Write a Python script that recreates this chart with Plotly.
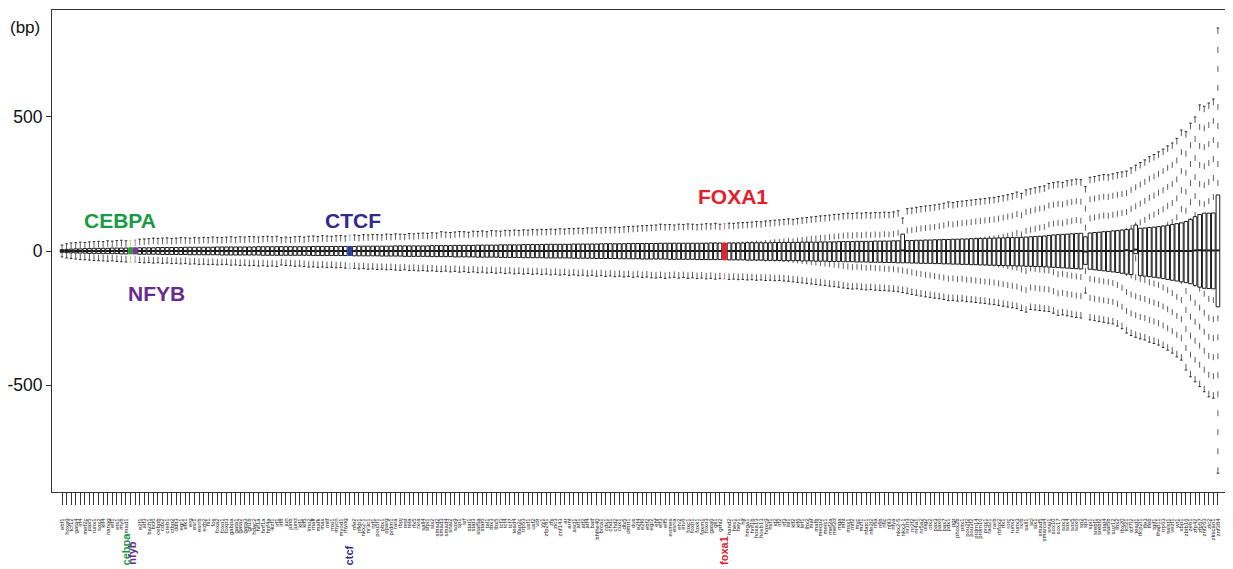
import plotly.graph_objects as go

# ---------------- data ----------------
tf_names = [
    "ebf1", "hoxa9", "tcf12", "gata4", "irf4", "mef2c", "pax5", "runx1", "sox2", "klf4",
    "nanog", "elf1", "ets1", "myb", "smad1", "cebpa", "nfyb", "e2f1", "atf3", "bach1",
    "bcl6", "cebpb", "cdx2", "creb1", "ctbp2", "ddit3", "egr1", "elk1", "erg", "esr1",
    "esrrb", "ezh2", "fli1", "fos", "foxa2", "foxo1", "foxp3", "gabpa", "gata1", "gata2",
    "gata3", "gfi1b", "hdac2", "hif1a", "hnf1a", "hnf4a", "ikzf1", "irf1", "irf8", "jun",
    "junb", "jund", "klf1", "klf5", "lmo2", "maff", "mafk", "max", "mitf", "mxi1",
    "mycn", "myod1", "myog", "ctcf", "nfe2", "nfkb1", "nkx2-1", "nr3c1", "nrf1", "pou5f1",
    "pbx1", "pparg", "prdm1", "rara", "rbpj", "rest", "rela", "rfx5", "rxra", "sall4",
    "sfpi1", "six2", "smad2", "smad3", "smad4", "snai2", "sox9", "sp1", "srf", "stat1",
    "stat3", "stat5a", "stat6", "tal1", "tbx3", "tbx5", "tcf3", "tcf4", "tcf7", "tead4",
    "tfap2c", "trp53", "usf1", "usf2", "vdr", "yy1", "zfp281", "zfx", "zic3", "znf143",
    "ar", "arnt", "ascl1", "atf1", "atf2", "atf4", "batf", "bhlhe40", "brca1", "cdx1",
    "chd1", "chd2", "cux1", "dlx5", "dmrt1", "dux", "e2f4", "e2f6", "ebf2", "egr2",
    "ehf", "elf3", "elf5", "eomes", "esrra", "etv2", "etv6", "foxc1", "foxh1", "foxk1",
    "foxm1", "foxo3", "gata6", "gli1", "grhl2", "foxa1", "hand2", "hes1", "hey1", "hlf",
    "hmga1", "hnf1b", "hoxa13", "hoxb13", "hoxc9", "hsf1", "id2", "irf2", "irf3", "isl1",
    "klf2", "klf6", "lef1", "lhx2", "maf", "mafb", "mecp2", "meis1", "mef2a", "mef2d",
    "mga", "mnt", "msx1", "mtf2", "myc", "mzf1", "nfatc1", "nfe2l2", "nfia", "nfib",
    "nfic", "nfil3", "nfya", "nkx2-5", "nkx3-1", "nr1h3", "nr2f2", "nr4a1", "nr5a2", "olig2",
    "otx2", "pax3", "pax6", "pax7", "pdx1", "pgr", "phox2b", "pitx1", "pou2f2", "pou3f2",
    "prdm14", "prdm16", "prox1", "rad21", "rarb", "rbfox2", "rfx1", "rorc", "runx2", "runx3",
    "rxrb", "sall1", "scl", "six1", "smad5", "smarca4", "snai1", "sox10", "sox17", "sox3",
    "sox4", "sox5", "sox6", "sp2", "sp3", "spi1", "srebf1", "srebf2", "stat4", "stat5b",
    "suz12", "tbx2", "tbx20", "tcf21", "tcf7l2", "tead1", "tfcp2l1", "tfe3", "tfeb", "tgif1",
    "thap11", "trp63", "twist1", "vezf1", "wt1", "xbp1", "zbtb16", "zeb1", "zfp42", "zfp57",
    "znf263", "zic2", "zkscan1", "znf384",
]

whisker_hi = [
    22, 27, 30, 31, 33, 32, 34, 35, 36, 35,
    38, 37, 39, 40, 38, 40, 41, 44, 45, 46,
    48, 47, 48, 49, 47, 48, 50, 49, 48, 50,
    49, 51, 50, 52, 51, 50, 52, 53, 51, 53,
    52, 54, 53, 52, 54, 55, 53, 55, 50, 52,
    51, 53, 54, 52, 55, 56, 54, 57, 56, 55,
    57, 58, 56, 59, 60, 58, 61, 60, 62, 61,
    60, 63, 62, 64, 63, 62, 65, 64, 66, 67,
    66, 68, 67, 72, 70, 69, 71, 73, 72, 70,
    74, 73, 75, 72, 76, 75, 74, 77, 76, 78,
    77, 79, 78, 80, 79, 81, 80, 82, 81, 83,
    82, 84, 83, 85, 84, 86, 85, 87, 86, 88,
    87, 89, 88, 90, 91, 92, 93, 94, 95, 96,
    97, 100, 98, 99, 97, 100, 99, 101, 100, 98,
    100, 102, 101, 103, 100, 102, 104, 103, 105, 106,
    107, 108, 110, 109, 112, 113, 115, 116, 118, 120,
    118, 121, 123, 125, 127, 129, 131, 132, 134, 136,
    137, 139, 141, 140, 142, 141, 143, 142, 144, 143,
    145, 144, 146, 150, 123, 158, 160, 163, 166, 168,
    170, 172, 175, 178, 183, 181, 184, 186, 188, 190,
    192, 194, 196, 198, 200, 203, 206, 210, 214, 220,
    215, 228, 232, 236, 240, 243, 252, 255, 258, 256,
    262, 265, 268, 266, 240, 275, 278, 282, 285, 284,
    288, 292, 295, 298, 310, 320, 330, 340, 352, 360,
    370, 380, 392, 403, 420, 451, 445, 477, 500, 545,
    540, 552, 567, 832,
]

whisker_lo = [
    -22, -26, -28, -30, -32, -33, -34, -35, -36, -37,
    -38, -37, -39, -40, -41, -42, -41, -43, -44, -43,
    -45, -44, -46, -45, -47, -46, -48, -47, -49, -48,
    -50, -49, -51, -50, -52, -51, -50, -53, -52, -54,
    -53, -55, -54, -56, -55, -57, -56, -58, -52, -54,
    -55, -57, -56, -58, -60, -59, -61, -60, -62, -61,
    -63, -62, -64, -66, -65, -67, -66, -68, -67, -69,
    -68, -70, -69, -71, -72, -70, -73, -72, -74, -73,
    -75, -74, -76, -77, -75, -78, -76, -79, -77, -80,
    -78, -81, -79, -82, -80, -83, -81, -84, -82, -85,
    -83, -86, -84, -87, -85, -88, -86, -89, -87, -90,
    -88, -91, -89, -92, -90, -93, -91, -94, -92, -95,
    -93, -96, -94, -97, -95, -98, -96, -99, -97, -100,
    -101, -99, -102, -100, -98, -101, -99, -102, -100, -103,
    -101, -104, -102, -105, -103, -104, -106, -105, -107, -106,
    -108, -107, -109, -108, -110, -109, -111, -110, -112, -113,
    -115, -117, -119, -121, -123, -125, -127, -129, -131, -133,
    -135, -138, -140, -142, -141, -143, -145, -144, -146, -147,
    -148, -149, -150, -152, -155, -158, -162, -165, -168, -171,
    -173, -176, -178, -181, -185, -184, -187, -186, -189, -190,
    -192, -194, -196, -198, -200, -203, -206, -209, -212, -215,
    -222, -228, -218, -220, -222, -224, -226, -232, -240, -238,
    -242, -245, -248, -250, -157, -257, -260, -263, -266, -269,
    -272, -280, -290, -306, -315, -322, -328, -332, -340, -345,
    -351, -360, -370, -381, -395, -407, -444, -469, -488, -506,
    -525, -544, -549, -829,
]

q3 = [
    5, 6, 7, 8, 8, 9, 9, 10, 10, 10,
    10, 11, 11, 11, 11, 12, 12, 12, 12, 12,
    12, 13, 13, 13, 13, 13, 13, 14, 14, 14,
    14, 14, 14, 14, 15, 15, 15, 15, 15, 15,
    15, 15, 15, 16, 16, 16, 16, 16, 16, 16,
    16, 16, 16, 16, 16, 17, 17, 17, 17, 17,
    17, 17, 17, 17, 17, 18, 18, 18, 18, 18,
    18, 18, 18, 19, 19, 19, 19, 19, 19, 19,
    19, 20, 20, 20, 20, 20, 21, 21, 21, 21,
    21, 22, 22, 22, 22, 22, 23, 23, 23, 23,
    23, 24, 24, 24, 24, 24, 25, 25, 25, 25,
    25, 25, 26, 26, 26, 26, 26, 26, 27, 27,
    27, 27, 27, 27, 28, 28, 28, 28, 28, 28,
    28, 29, 29, 29, 29, 29, 29, 29, 29, 29,
    29, 29, 30, 30, 30, 30, 30, 30, 30, 30,
    31, 31, 31, 31, 31, 31, 32, 32, 32, 32,
    32, 32, 33, 33, 33, 33, 34, 34, 34, 34,
    35, 35, 35, 35, 36, 36, 36, 36, 37, 37,
    37, 37, 38, 38, 63, 39, 39, 40, 40, 41,
    41, 42, 42, 43, 43, 44, 44, 45, 45, 46,
    46, 47, 47, 48, 48, 49, 49, 50, 50, 51,
    51, 52, 53, 54, 55, 56, 58, 60, 61, 62,
    63, 64, 65, 66, 53, 67, 69, 70, 72, 73,
    75, 76, 78, 80, 82, 97, 85, 86, 88, 89,
    91, 93, 96, 99, 102, 105, 110, 118, 128, 136,
    141, 141, 142, 209,
]

q1 = [
    -5, -6, -7, -7, -8, -8, -9, -9, -9, -10,
    -10, -10, -10, -11, -11, -11, -11, -12, -12, -12,
    -12, -12, -13, -13, -13, -13, -13, -13, -14, -14,
    -14, -14, -14, -14, -14, -15, -15, -15, -15, -15,
    -15, -15, -15, -15, -16, -16, -16, -16, -16, -16,
    -16, -16, -16, -16, -16, -17, -17, -17, -17, -17,
    -17, -17, -17, -17, -18, -18, -18, -18, -18, -18,
    -19, -19, -19, -19, -19, -20, -20, -20, -20, -20,
    -20, -21, -21, -21, -21, -21, -22, -22, -22, -22,
    -22, -23, -23, -23, -23, -23, -24, -24, -24, -24,
    -24, -25, -25, -25, -25, -25, -26, -26, -26, -26,
    -26, -26, -27, -27, -27, -27, -27, -28, -28, -28,
    -28, -28, -29, -29, -29, -29, -29, -30, -30, -30,
    -30, -30, -30, -31, -31, -31, -31, -31, -31, -32,
    -32, -32, -32, -32, -32, -33, -33, -33, -33, -33,
    -34, -34, -34, -34, -35, -35, -35, -35, -36, -36,
    -36, -36, -37, -37, -37, -38, -38, -38, -39, -39,
    -39, -40, -40, -40, -41, -41, -41, -42, -42, -42,
    -43, -43, -43, -44, -44, -44, -45, -45, -46, -46,
    -46, -47, -47, -48, -48, -49, -49, -50, -50, -51,
    -51, -52, -52, -53, -53, -54, -54, -55, -55, -56,
    -56, -57, -57, -58, -58, -59, -60, -61, -62, -63,
    -64, -65, -66, -67, -50, -68, -70, -72, -74, -76,
    -78, -80, -83, -86, -88, -10, -92, -94, -96, -98,
    -100, -103, -106, -109, -112, -115, -118, -122, -128, -135,
    -139, -140, -141, -208,
]

median = [
    0, 0, 0, 0, 0, 0, 0, 0, 0, 0,
    0, 0, 0, 0, 0, 0, 0, 0, 0, 0,
    0, 0, 0, 0, 0, 0, 0, 0, 0, 0,
    0, 0, 0, 0, 0, 0, 0, 0, 0, 0,
    0, 0, 0, 0, 0, 0, 0, 0, 0, 0,
    0, 0, 0, 0, 0, 0, 0, 0, 0, 0,
    0, 0, 0, 0, 0, 0, 0, 0, 0, 0,
    0, 0, 0, 0, 0, 0, 0, 0, 0, 0,
    0, 0, 0, 0, 0, 0, 0, 0, 0, 0,
    0, 0, 0, 0, 0, 0, 0, 0, 0, 0,
    0, 0, 0, 0, 0, 0, 0, 0, 0, 0,
    0, 0, 0, 0, 0, 0, 0, 0, 0, 0,
    0, 0, 0, 0, 0, 0, 0, 0, 0, 0,
    0, 0, 0, 0, 0, 0, 0, 0, 0, 0,
    0, 0, 0, 0, 0, 0, 0, 0, 0, 0,
    0, 0, 0, 0, 0, 0, 0, 0, 0, 0,
    0, 0, 0, 0, 0, 0, 0, 0, 0, 0,
    0, 0, 0, 0, 0, 0, 0, 0, 0, 0,
    0, 0, 0, 0, 2, 0, 0, 0, 0, 0,
    0, 0, 0, 0, 0, 0, 0, 0, 0, 0,
    0, 0, 0, 0, 0, 0, 0, 0, 0, 0,
    0, 0, 0, 0, 0, 0, 0, 0, 0, 0,
    0, 0, 0, 0, -2, 0, 0, 0, 0, 0,
    0, 0, 0, 3, 0, 5, 0, 0, 0, 0,
    0, 0, 0, 0, 0, 0, 0, 0, 2, 3,
    2, 2, 2, 2,
]

highlights = ["cebpa", "nfyb", "ctcf", "foxa1"]
hl_box_color = {"cebpa": "#2a9a3c", "nfyb": "#7a2f95", "ctcf": "#22409c", "foxa1": "#e5212b"}
hl_whisker_color = {"cebpa": "#bcdc70", "nfyb": "#b27ccb", "ctcf": "#82b6e4", "foxa1": "#f07a80"}
hl_text_color = {"cebpa": "#1b9a45", "nfyb": "#6a2b8a", "ctcf": "#2f2a8c", "foxa1": "#e3202a"}
hl_title = {"cebpa": "CEBPA", "nfyb": "NFYB", "ctcf": "CTCF", "foxa1": "FOXA1"}

# ---------------- drawing ----------------
N = len(tf_names)
BOX_HW = 0.40
CAP_HW = 0.28
FONT = "Liberation Sans, Arial, Helvetica, sans-serif"

fig = go.Figure()


def add_group(indices, box_fill, box_line, whisk_color, cap_color):
    wx, wy, cx, cy, bx, by, mx, my = [], [], [], [], [], [], [], []
    for i in indices:
        wx += [i, i, None, i, i, None]
        wy += [whisker_hi[i], q3[i], None, whisker_lo[i], q1[i], None]
        cx += [i - CAP_HW, i + CAP_HW, None, i - CAP_HW, i + CAP_HW, None]
        cy += [whisker_hi[i], whisker_hi[i], None, whisker_lo[i], whisker_lo[i], None]
        bx += [i - BOX_HW, i + BOX_HW, i + BOX_HW, i - BOX_HW, i - BOX_HW, None]
        by += [q1[i], q1[i], q3[i], q3[i], q1[i], None]
        mx += [i - BOX_HW, i + BOX_HW, None]
        my += [median[i], median[i], None]
    fig.add_trace(go.Scatter(x=wx, y=wy, mode="lines", hoverinfo="skip",
                             line=dict(color=whisk_color, width=1, dash="6px,13px")))
    fig.add_trace(go.Scatter(x=cx, y=cy, mode="lines", hoverinfo="skip",
                             line=dict(color=cap_color, width=1)))
    fig.add_trace(go.Scatter(x=bx, y=by, mode="lines", fill="toself", fillcolor=box_fill,
                             hoverinfo="skip", line=dict(color=box_line, width=1)))
    fig.add_trace(go.Scatter(x=mx, y=my, mode="lines", hoverinfo="skip",
                             line=dict(color=box_line, width=2)))


hl_index = {name: tf_names.index(name) for name in highlights}
normal = [i for i in range(N) if tf_names[i] not in highlights]
add_group(normal, "white", "#1a1a1a", "#5e5e5e", "#2a2a2a")
for name in highlights:
    add_group([hl_index[name]], hl_box_color[name], hl_box_color[name],
              hl_whisker_color[name], hl_whisker_color[name])

ticktext = ["" if n in highlights else n for n in tf_names]

annotations = [
    dict(text="(bp)", xref="paper", yref="paper", x=-0.0229, y=0.9647,
         xanchor="center", yanchor="middle",
         showarrow=False, font=dict(family=FONT, size=17, color="#111")),
]
# big titles above / below the highlighted boxes
title_pos = {"cebpa": (12.7, 112), "nfyb": (20.6, -157), "ctcf": (63.7, 112), "foxa1": (146.9, 205)}
for name in highlights:
    x, y = title_pos[name]
    annotations.append(dict(text="<b>%s</b>" % hl_title[name], x=x, y=y, xref="x", yref="y",
                            xanchor="center", yanchor="middle", showarrow=False,
                            font=dict(family=FONT, size=21, color=hl_text_color[name])))
# coloured axis labels
lab_x = {"cebpa": hl_index["cebpa"] - 0.8, "nfyb": hl_index["nfyb"] - 0.75,
         "ctcf": hl_index["ctcf"] - 0.1, "foxa1": hl_index["foxa1"]}
for name in highlights:
    annotations.append(dict(text="<b>%s</b>" % name, x=lab_x[name], y=-0.1556, xref="x", yref="paper",
                            textangle=-90, yanchor="bottom", xanchor="center", showarrow=False,
                            font=dict(family=FONT, size=11, color=hl_text_color[name])))

# the page adds an 8px body margin, so the figure is 8px smaller and margins shifted
fig.update_layout(
    width=1225, height=561,
    margin=dict(l=44, r=0, t=2, b=77),
    paper_bgcolor="white", plot_bgcolor="white",
    showlegend=False,
    annotations=annotations,
    xaxis=dict(range=[-2.19, 256.3], tickmode="array", tickvals=list(range(N)), ticktext=ticktext,
               tickangle=-90, tickfont=dict(family=FONT, size=6, color="#222"),
               ticks="outside", ticklen=12, tickwidth=1, tickcolor="#333",
               ticklabelstandoff=11,
               showgrid=False, zeroline=False, showline=True, linecolor="#333", linewidth=1,
               mirror=True, automargin=False),
    yaxis=dict(range=[-899, 899], tickmode="array", tickvals=[-500, 0, 500],
               ticktext=["-500", "0", "500"], tickfont=dict(family=FONT, size=17.5, color="#111"),
               ticks="outside", ticklen=5, tickwidth=1, tickcolor="#333",
               showgrid=False, zeroline=False, showline=True, linecolor="#333", linewidth=1,
               automargin=False),
)

fig.write_html("out.html")
